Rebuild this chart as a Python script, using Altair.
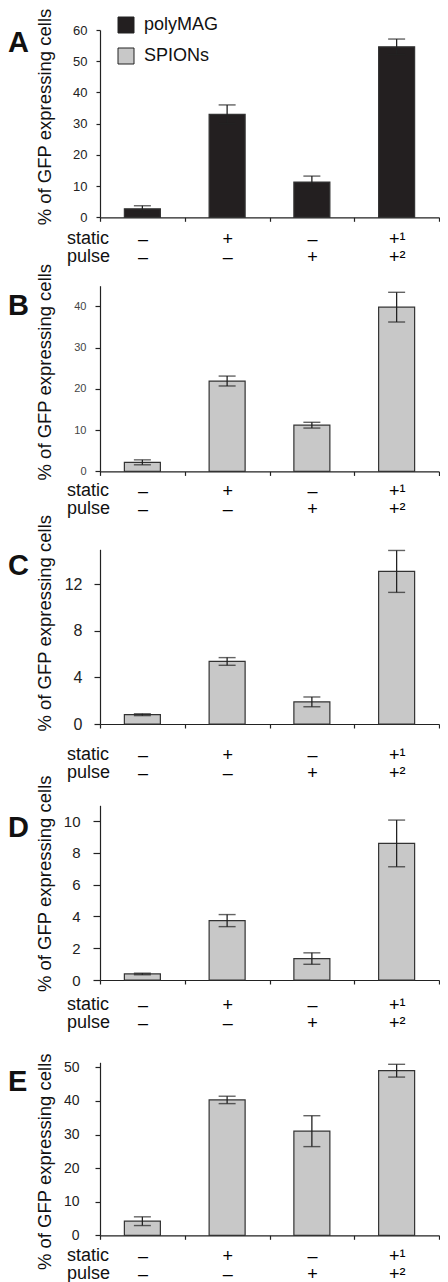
import altair as alt
import pandas as pd

FONT = "Liberation Sans"

# ---- data ----
conditions = ["–|–", "+|–", "–|+", "+¹|+²"]   # static | pulse
row_labels = ["static", "pulse"]
series_names = ["polyMAG", "SPIONs"]
letters = ["A", "B", "C", "D", "E"]

a_values = [2.7, 33.0, 11.3, 54.6]
a_errs = [1.0, 3.0, 1.9, 2.5]
b_values = [2.2, 21.9, 11.2, 39.8]
b_errs = [0.6, 1.2, 0.7, 3.6]
c_values = [0.8, 5.37, 1.9, 13.1]
c_errs = [0.08, 0.33, 0.42, 1.8]
d_values = [0.38, 3.74, 1.35, 8.6]
d_errs = [0.05, 0.38, 0.36, 1.47]
e_values = [4.2, 40.3, 31.0, 49.0]
e_errs = [1.3, 1.1, 4.6, 1.9]

a_ticks = [0, 10, 20, 30, 40, 50, 60]
b_ticks = [0, 10, 20, 30, 40]
c_ticks = [0, 4, 8, 12]
d_ticks = [0, 2, 4, 6, 8, 10]
e_ticks = [0, 10, 20, 30, 40, 50]

W = 339


def make_df(values, errs, series):
    return pd.DataFrame({
        "condition": conditions,
        "value": values,
        "lo": [v - e for v, e in zip(values, errs)],
        "hi": [v + e for v, e in zip(values, errs)],
        "series": [series] * len(values),
    })


def panel(letter, df, ymax, ticks, H, gap, lab_size, lab_pad, ytick,
          title_y, letter_y, xlab_pad, legend=False, lab_color="#222"):
    yscale = alt.Scale(domain=[0, ymax], range=[H, gap], nice=False, zero=True)
    yaxis = alt.Axis(values=ticks, title="% of GFP expressing cells",
                     titleFontSize=18.5, titleFontWeight="normal", titleAngle=270,
                     titleX=-56, titleY=title_y, titleBaseline="middle",
                     titleAlign="center", labelFontSize=lab_size,
                     labelPadding=lab_pad, tickSize=ytick, grid=False,
                     labelColor=lab_color, format="d")
    xaxis = alt.Axis(title=None,
                     labelExpr="isValid(datum.value) ? split(datum.value, '|') : ''",
                     labelFontSize=18, labelLineHeight=18,
                     labelAngle=0, tickBand="extent", tickSize=4,
                     labelPadding=xlab_pad, labelBaseline="top")
    xenc = alt.X("condition:N", sort=conditions,
                 scale=alt.Scale(paddingInner=0, paddingOuter=0), axis=xaxis)
    base = alt.Chart(df)
    if legend:
        color = alt.Color("series:N",
                          scale=alt.Scale(domain=series_names,
                                          range=["#231f20", "#c8c8c8"]),
                          legend=alt.Legend(title=None, orient="none",
                                            legendX=17, legendY=-14,
                                            symbolType="square", symbolSize=256,
                                            symbolStrokeColor="#222",
                                            symbolStrokeWidth=1,
                                            symbolOpacity=1,
                                            labelFontSize=18, labelOffset=9,
                                            rowPadding=11, padding=0,
                                            labelColor="#111"))
    else:
        color = alt.value("#c8c8c8")
    bars = base.mark_bar(size=36, stroke="#333", strokeWidth=1.2, opacity=1).encode(
        x=xenc,
        y=alt.Y("value:Q", scale=yscale, axis=yaxis),
        color=color,
    )
    rule = base.mark_rule(color="#222", strokeWidth=1.3).encode(
        x=xenc,
        y=alt.Y("lo:Q", scale=yscale, axis=yaxis),
        y2="hi:Q",
    )
    cap_hi = base.mark_tick(color="#222", size=17, thickness=1.4).encode(
        x=xenc, y=alt.Y("hi:Q", scale=yscale, axis=yaxis))
    cap_lo = base.mark_tick(color="#222", size=17, thickness=1.4).encode(
        x=xenc, y=alt.Y("lo:Q", scale=yscale, axis=yaxis))
    lett = alt.Chart(pd.DataFrame({"letter": [letter]})).mark_text(
        align="left", baseline="middle", fontSize=29, fontWeight="bold",
        color="#111").encode(text="letter:N", x=alt.value(-92), y=alt.value(letter_y))
    rows = []
    for i, lab in enumerate(row_labels):
        rows.append(alt.Chart(pd.DataFrame({"row": [lab]})).mark_text(
            align="left", baseline="top", fontSize=18, color="#111").encode(
            text="row:N", x=alt.value(-33), y=alt.value(H + 4 + xlab_pad + 18 * i)))
    return alt.layer(bars, rule, cap_hi, cap_lo, lett, *rows).properties(width=W, height=H)


pA = panel("A", make_df(a_values, a_errs, "polyMAG"), 60, a_ticks, 187.3, 0,
           13, 9, 4, 86.5, 13, 9, legend=True)
pB = panel("B", make_df(b_values, b_errs, "SPIONs"), 45, b_ticks, 253.4, 67.7,
           11, 9, 5, 153.7, 87.5, 7, lab_color="#444")
pC = panel("C", make_df(c_values, c_errs, "SPIONs"), 15, c_ticks, 252.0, 77.3,
           16, 12, 6, 150.8, 94.3, 18)
pD = panel("D", make_df(d_values, d_errs, "SPIONs"), 11, d_ticks, 256.0, 81.3,
           15, 13, 7, 159.3, 104.3, 12)
pE = panel("E", make_df(e_values, e_errs, "SPIONs"), 51.5, e_ticks, 255.3, 82.3,
           14, 16, 5, 181.3, 102.3, 8)

chart = alt.vconcat(pA, pB, pC, pD, pE, spacing=0, bounds="flush").resolve_legend(
    color="independent"
).properties(
    padding={"left": 0, "top": 0, "right": 0, "bottom": 0},
    background="white",
).configure(font=FONT).configure_view(stroke=None).configure_axis(
    domainColor="#222", tickColor="#222", titleColor="#111",
    domainWidth=1.2, tickWidth=1.2, labelFont=FONT, titleFont=FONT,
).configure_text(font=FONT).configure_legend(labelFont=FONT)

chart.save("out.html", embed_options={"renderer": "svg", "actions": False})
